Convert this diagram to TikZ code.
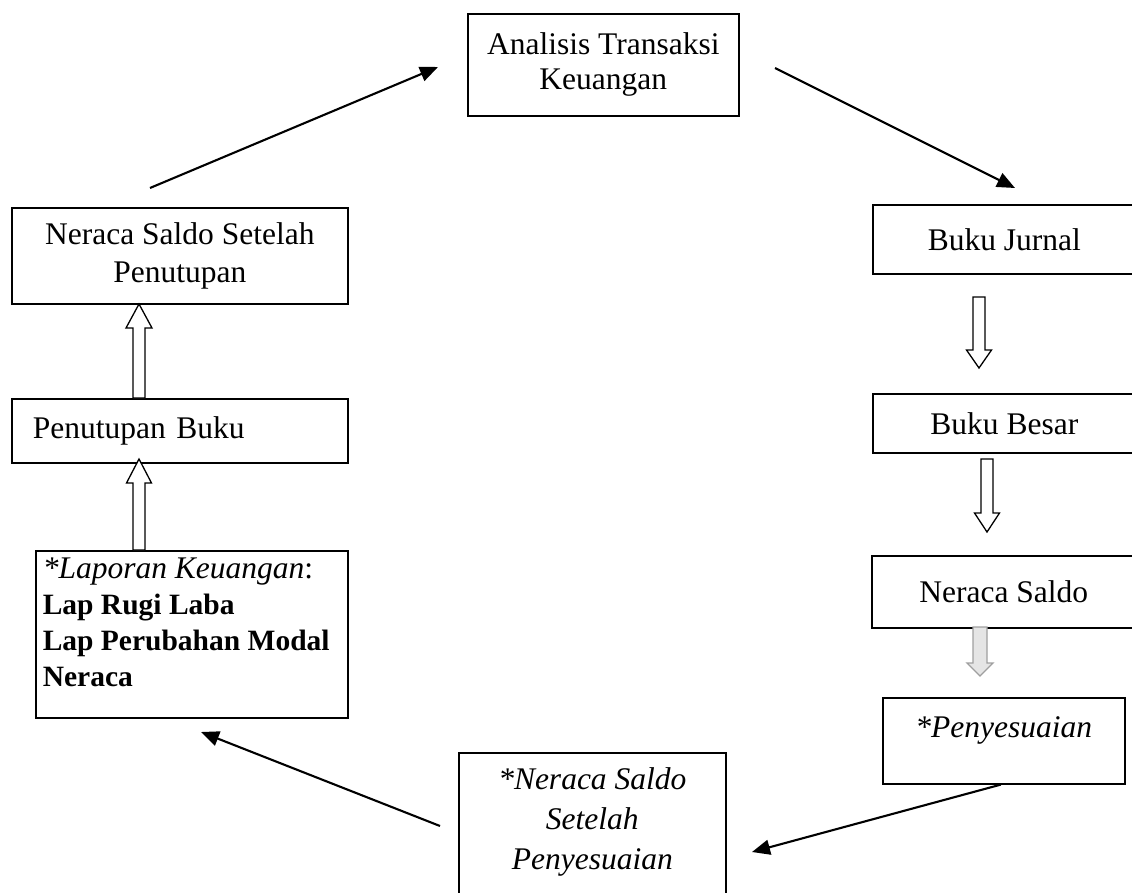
\documentclass[tikz,border=0pt]{standalone}
\usepackage{fontspec}
\setmainfont{Liberation Serif}
\usetikzlibrary{arrows.meta,calc}

% vertical block arrow: [style]{start}{tip}{shaft half width}{head half width}{head length}
\newcommand\hollowarrow[6][]{%
  \path[hollow,#1] let \p1=(#2), \p2=(#3), \n1={sign(\y2-\y1)*#6},
      \n2={\y2-\n1} in
    ({\x1-#4pt},\y1) -- ({\x1+#4pt},\y1) -- ({\x1+#4pt},\n2)
    -- ({\x1+#5pt},\n2) -- (\x2,\y2) -- ({\x1-#5pt},\n2)
    -- ({\x1-#4pt},\n2) -- cycle;}

\begin{document}
\begin{tikzpicture}[x=1pt,y=-1pt,
  box/.style={draw, line width=1.6pt, inner sep=0pt, anchor=north west,
    align=center, font=\fontsize{31.5}{37}\selectfont},
  arr/.style={line width=2.1pt, -{Triangle[length=18pt,width=15pt]}},
  hollow/.style={draw, line width=1.3pt, fill=white, line join=miter},
]
\useasboundingbox (0,0) rectangle (1132,893);

% boxes of the cycle
\node[box, minimum width=271pt, minimum height=102pt] (top) at (467,13)
  {Analisis Transaksi\\[-2pt]Keuangan};
\node[box, minimum width=263pt, minimum height=69pt] (jurnal) at (872,204) {Buku Jurnal};
\node[box, minimum width=263pt, minimum height=59pt] (besar) at (872,393) {Buku Besar};
\node[box, minimum width=264pt, minimum height=72pt] (saldo) at (871,555) {Neraca Saldo};
\node[box, minimum width=242pt, minimum height=86pt, text height=21pt, text depth=27pt]
  (penyes) at (882,697) {\itshape *Penyesuaian};
\node[box] (mid) at (458,752)
  {\parbox[t][150pt][t]{267pt}{\fontsize{31.5}{40}\selectfont\centering\itshape
   \vspace*{9pt}\strut*Neraca Saldo\\Setelah\\Penyesuaian}};
\node[box] (lap) at (35,550)
  {\parbox[t][167pt][t]{312pt}{\fontsize{31.5}{36}\selectfont\raggedright\leftskip=7pt
   \vspace*{2pt}\strut\textit{*Laporan Keuangan}:\\
   \fontsize{29.5}{36}\selectfont\bfseries
   Lap Rugi Laba\\
   Lap Perubahan Modal\\
   Neraca}};
\node[box, minimum width=336pt, minimum height=64pt, text width=294pt, align=left]
  (tutup) at (11,398) {Penutupan Buku};
\node[box, minimum width=336pt, minimum height=96pt] (nssp) at (11,207)
  {Neraca Saldo Setelah\\[1pt]Penutupan};

% free ends of the slanted connectors
\coordinate (a1) at (150,188);
\coordinate (a1t) at (438,67);
\coordinate (a2) at (775,68);
\coordinate (a3) at (1015,188);
\coordinate (a4) at (752,852);
\coordinate (a5) at (440,826);
\coordinate (a6) at (201,732);

\draw[arr] (a1) -- (a1t);
\draw[arr] (a2) -- (a3);
\draw[arr] ([xshift=-3pt]penyes.south) -- (a4);
\draw[arr] (a5) -- (a6);

% block arrows between the stacked boxes
\coordinate (b1s) at (979,297);  \coordinate (b1t) at (979,368);
\coordinate (b2s) at (987,459);  \coordinate (b2t) at (987,532);
\coordinate (b3s) at (980,627);  \coordinate (b3t) at (980,676);
\coordinate (c1s) at (139,398);  \coordinate (c1t) at (139,304);
\coordinate (c2s) at (139,550);  \coordinate (c2t) at (139,459);

\hollowarrow{b1s}{b1t}{6}{12.5}{18}
\hollowarrow{b2s}{b2t}{6}{12.5}{19}
\hollowarrow[draw=gray!75, fill=gray!20]{b3s}{b3t}{7}{13}{13}
\hollowarrow{c1s}{c1t}{6}{13}{24}
\hollowarrow{c2s}{c2t}{6}{12.5}{24}
\end{tikzpicture}
\end{document}
